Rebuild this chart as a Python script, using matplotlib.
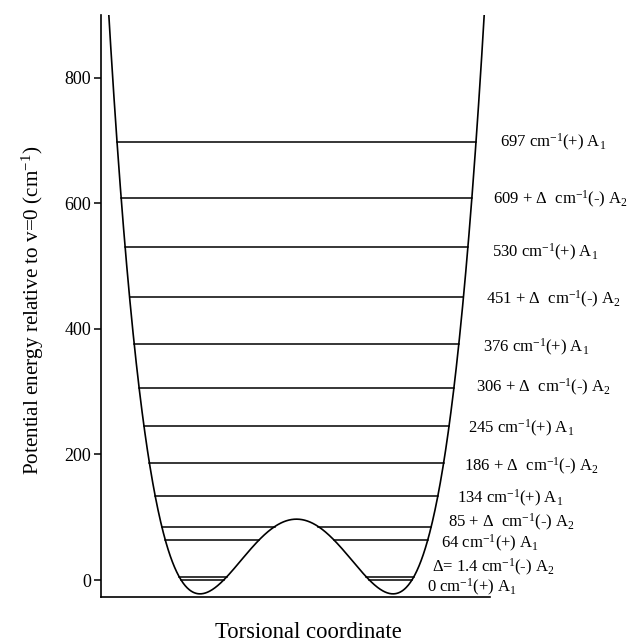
import numpy as np
import matplotlib
matplotlib.use("Agg")
import matplotlib.pyplot as plt

plt.rcParams['font.family'] = ['Liberation Serif', 'DejaVu Serif']
plt.rcParams['mathtext.fontset'] = 'custom'
plt.rcParams['mathtext.rm'] = 'Liberation Serif'
plt.rcParams['mathtext.it'] = 'Liberation Serif:italic'

# double well (cm-1)
well_min = -22.0
barrier_top = 97.0

# drawn level energies (cm-1), bottom to top
levels = [0, 5, 64, 85, 134, 186, 245, 306, 376, 451, 530, 609, 697]
level_labels = [
    "0 cm$^{-1}$(+) A$_1$",
    "Δ= 1.4 cm$^{-1}$(-) A$_2$",
    "64 cm$^{-1}$(+) A$_1$",
    "85 + Δ  cm$^{-1}$(-) A$_2$",
    "134 cm$^{-1}$(+) A$_1$",
    "186 + Δ  cm$^{-1}$(-) A$_2$",
    "245 cm$^{-1}$(+) A$_1$",
    "306 + Δ  cm$^{-1}$(-) A$_2$",
    "376 cm$^{-1}$(+) A$_1$",
    "451 + Δ  cm$^{-1}$(-) A$_2$",
    "530 cm$^{-1}$(+) A$_1$",
    "609 + Δ  cm$^{-1}$(-) A$_2$",
    "697 cm$^{-1}$(+) A$_1$",
]
# label offsets from the right end of each level (pixels)
label_dx = [15, 18, 13, 17, 19, 20, 19, 22, 24, 23, 24, 21, 24]
label_dy = [-7, 9, -4, 4, -3, -3, -2, 0, -3, -3, -5, -2, 0]

yticks = [0, 200, 400, 600, 800]

B = barrier_top - well_min


def V(u):
    return well_min + B * (u ** 2 - 1) ** 2


fig = plt.figure(figsize=(6.36, 6.42), dpi=100)
ax = fig.add_axes([101 / 636, 45 / 642, 389 / 636, 582 / 642])

u = np.linspace(-2.2, 2.2, 800)
ax.plot(u, V(u), color='black', lw=1.2)

for E, lab, dx, dy in zip(levels, level_labels, label_dx, label_dy):
    s = np.sqrt((E - well_min) / B)
    outer = np.sqrt(1 + s)
    if E < barrier_top:
        inner = np.sqrt(1 - s)
        ax.plot([-outer, -inner], [E, E], color='black', lw=1.1)
        ax.plot([inner, outer], [E, E], color='black', lw=1.1)
    else:
        ax.plot([-outer, outer], [E, E], color='black', lw=1.1)
    ax.annotate(lab, xy=(outer, E), xytext=(dx, dy), textcoords='offset pixels',
                ha='left', va='center', fontsize=12, annotation_clip=False)

ax.set_xlim(-2.026, 2.005)
ax.set_ylim(-27, 900)
ax.set_xticks([])
ax.set_yticks(yticks)
ax.tick_params(axis='y', direction='out', length=5, width=1.1, labelsize=13, pad=2)
ax.spines['top'].set_visible(False)
ax.spines['right'].set_visible(False)
ax.spines['left'].set_linewidth(1.2)
ax.spines['bottom'].set_linewidth(1.2)

fig.text(33 / 636, 1 - 310 / 642, "Potential energy relative to v=0 (cm$^{-1}$)",
         rotation=90, ha='center', va='center', fontsize=15.2)
fig.text(308 / 636, 1 - 632 / 642, "Torsional coordinate",
         ha='center', va='center', fontsize=16.3)

fig.savefig("out.png", dpi=100)
